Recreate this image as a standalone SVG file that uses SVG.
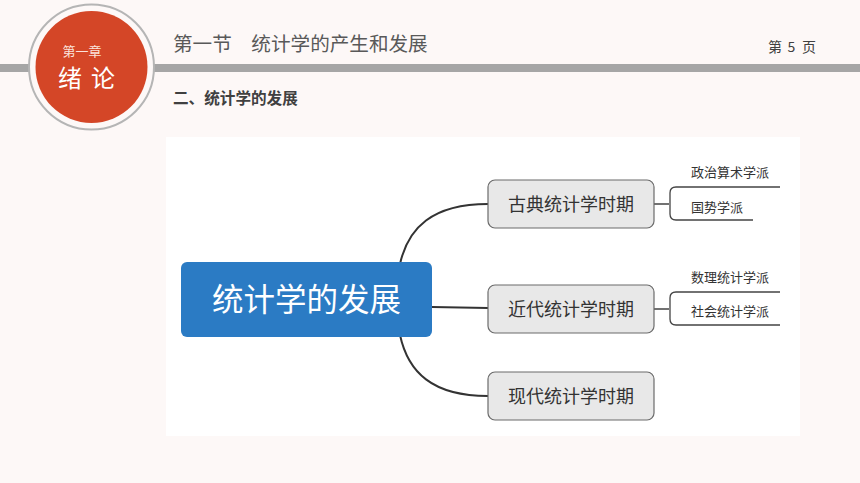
<svg xmlns="http://www.w3.org/2000/svg" width="860" height="483" viewBox="0 0 860 483">
<style>
text{font-family:"Noto Sans CJK SC","Noto Sans",sans-serif}
.child rect{fill:#e8e8e8;stroke:#6b6b6b;stroke-width:1.2}
.child text{font-size:18px;fill:#333;text-anchor:middle}
.leaf{font-size:13px;fill:#333}
.conn{fill:none;stroke:#333;stroke-width:2}
.br{fill:none;stroke:#444;stroke-width:1.3}
</style>
<rect width="860" height="483" fill="#fdf8f7"/>
<rect x="0" y="64" width="860" height="8" fill="#a6a6a6"/>
<g id="badge">
<circle cx="91.5" cy="67" r="62.5" fill="#fdf8f7" stroke="#b5b5b5" stroke-width="2"/>
<circle cx="91.5" cy="67" r="56" fill="#d44627"/>
<text x="82" y="55.5" font-size="13" fill="#fbe3dc" text-anchor="middle">第一章</text>
<text x="91" y="87" font-size="24" fill="#fff" text-anchor="middle" letter-spacing="9">绪论</text>
</g>
<text id="title" x="173" y="51" font-size="19.6" fill="#595959">第一节　统计学的产生和发展</text>
<g id="page" font-size="14" fill="#404040">
<text x="768" y="52">第</text><text x="787.5" y="52">5</text><text x="802" y="52">页</text>
</g>
<text id="subtitle" x="173" y="104" font-size="15.6" font-weight="bold" fill="#404040">二、统计学的发展</text>
<rect x="166" y="137" width="634" height="299" fill="#ffffff"/>
<g id="connectors">
<path class="conn" d="M400,264 C408,228 432,204 488,204"/>
<path class="conn" d="M432,307 L488,308"/>
<path class="conn" d="M400,335 C408,372 432,396 488,396"/>
<path class="br" d="M654,204 H669 M780,187 H676 Q670,187 670,193 V214 Q670,220 676,220 H753"/>
<path class="br" d="M654,309 H669 M780,292 H676 Q670,292 670,298 V319 Q670,325 676,325 H780"/>
</g>
<g id="root">
<rect x="181" y="262" width="251" height="75" rx="6" fill="#2b7bc4"/>
<text x="306.5" y="311" font-size="31.5" fill="#fff" text-anchor="middle">统计学的发展</text>
</g>
<g id="n1" class="child"><rect x="488" y="180" width="166" height="48" rx="7"/><text x="571" y="211">古典统计学时期</text></g>
<g id="n2" class="child"><rect x="488" y="285" width="166" height="48" rx="7"/><text x="571" y="316">近代统计学时期</text></g>
<g id="n3" class="child"><rect x="488" y="372" width="166" height="48" rx="7"/><text x="571" y="403">现代统计学时期</text></g>
<g id="l1"><text class="leaf" x="691" y="177">政治算术学派</text></g>
<g id="l2"><text class="leaf" x="691" y="212">国势学派</text></g>
<g id="l3"><text class="leaf" x="691" y="282">数理统计学派</text></g>
<g id="l4"><text class="leaf" x="691" y="316">社会统计学派</text></g>
</svg>
